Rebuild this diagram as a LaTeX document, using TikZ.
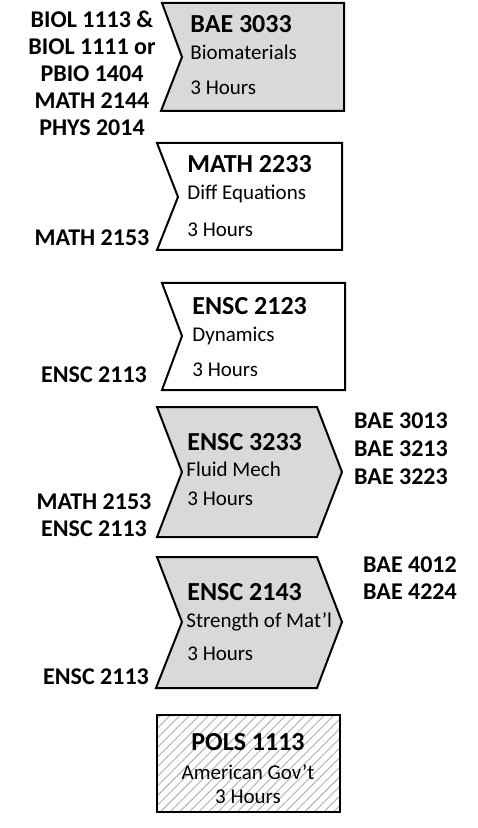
\documentclass[tikz,border=0pt]{standalone}
\usepackage{fontspec}
\setmainfont{Carlito}
\usetikzlibrary{patterns.meta}
\definecolor{boxgray}{HTML}{D9D9D9}
\definecolor{hatchgray}{HTML}{B8B8B8}

\begin{document}
\begin{tikzpicture}[x=0.5pt, y=-0.5pt,
    box/.style={draw=black, line width=1pt, line join=miter},
    code/.style={font=\fontsize{13}{15}\selectfont\bfseries, inner sep=0pt, text height=8.4pt, text depth=0pt, anchor=west},
    title/.style={font=\fontsize{10.5}{12}\selectfont, inner sep=0pt, text height=6.8pt, text depth=0pt, anchor=west},
    req/.style={font=\fontsize{12}{13.5}\selectfont\bfseries, inner sep=0pt, align=center}]
        \useasboundingbox (0,0) rectangle (477,828);
        % course shapes
        \draw[box, fill=boxgray] (162,3) -- (344,3) -- (344,111) -- (161,111) -- (182,57) -- cycle;
        \draw[box, fill=white]   (157,143) -- (342,143) -- (342,250) -- (157,250) -- (178,197) -- cycle;
        \draw[box, fill=white]   (162,283) -- (345,283) -- (345,390) -- (162,390) -- (182,336) -- cycle;
        \draw[box, fill=boxgray] (157,407) -- (317,407) -- (342,472) -- (317,537) -- (157,537) -- (182,472) -- cycle;
        \draw[box, fill=boxgray] (157,557) -- (317,557) -- (342,622) -- (317,688) -- (156,688) -- (182,622) -- cycle;
        \draw[box, pattern={Lines[angle=45, distance=3.4pt, line width=0.55pt]}, pattern color=hatchgray] (157,715) rectangle (340,812);
        % course texts
        \node[code]  (bae-code)  at (190,24) {BAE 3033};
        \node[title] (bae-name)  at (190,53) {Biomaterials};
        \node[title] (bae-hrs)   at (190,88) {3 Hours};
        \node[code]  (diff-code) at (187,164) {MATH 2233};
        \node[title] (diff-name) at (187,193) {Diff Equations};
        \node[title] (diff-hrs)  at (187,230) {3 Hours};
        \node[code]  (dyn-code)  at (192,306) {ENSC 2123};
        \node[title] (dyn-name)  at (192,335) {Dynamics};
        \node[title] (dyn-hrs)   at (192,370) {3 Hours};
        \node[code]  (flu-code)  at (187,442) {ENSC 3233};
        \node[title] (flu-name)  at (186,470) {Fluid Mech};
        \node[title] (flu-hrs)   at (187,499) {3 Hours};
        \node[code]  (str-code)  at (187,592) {ENSC 2143};
        \node[title] (str-name)  at (186,621) {Strength of Mat’l};
        \node[title] (str-hrs)   at (187,654) {3 Hours};
        \node[code, anchor=center]  (gov-code) at (248,742) {POLS 1113};
        \node[title, anchor=center] (gov-name) at (248,773) {American Gov’t};
        \node[title, anchor=center] (gov-hrs)  at (248,797) {3 Hours};
        % prerequisites and follow-ups
        \node[req] (bae-pre)  at (92,73)  {BIOL 1113 \&\\BIOL 1111 or\\PBIO 1404\\MATH 2144\\PHYS 2014};
        \node[req] (diff-pre) at (92,238) {MATH 2153};
        \node[req] (dyn-pre)  at (94,375) {ENSC 2113};
        \node[req] (flu-pre)  at (94,515) {MATH 2153\\ENSC 2113};
        \node[req, font=\fontsize{12}{14}\selectfont\bfseries] (flu-post) at (401,449) {BAE 3013\\BAE 3213\\BAE 3223};
        \node[req] (str-pre)  at (96,677) {ENSC 2113};
        \node[req] (str-post) at (410,578) {BAE 4012\\BAE 4224};
    \end{tikzpicture}
\end{document}
